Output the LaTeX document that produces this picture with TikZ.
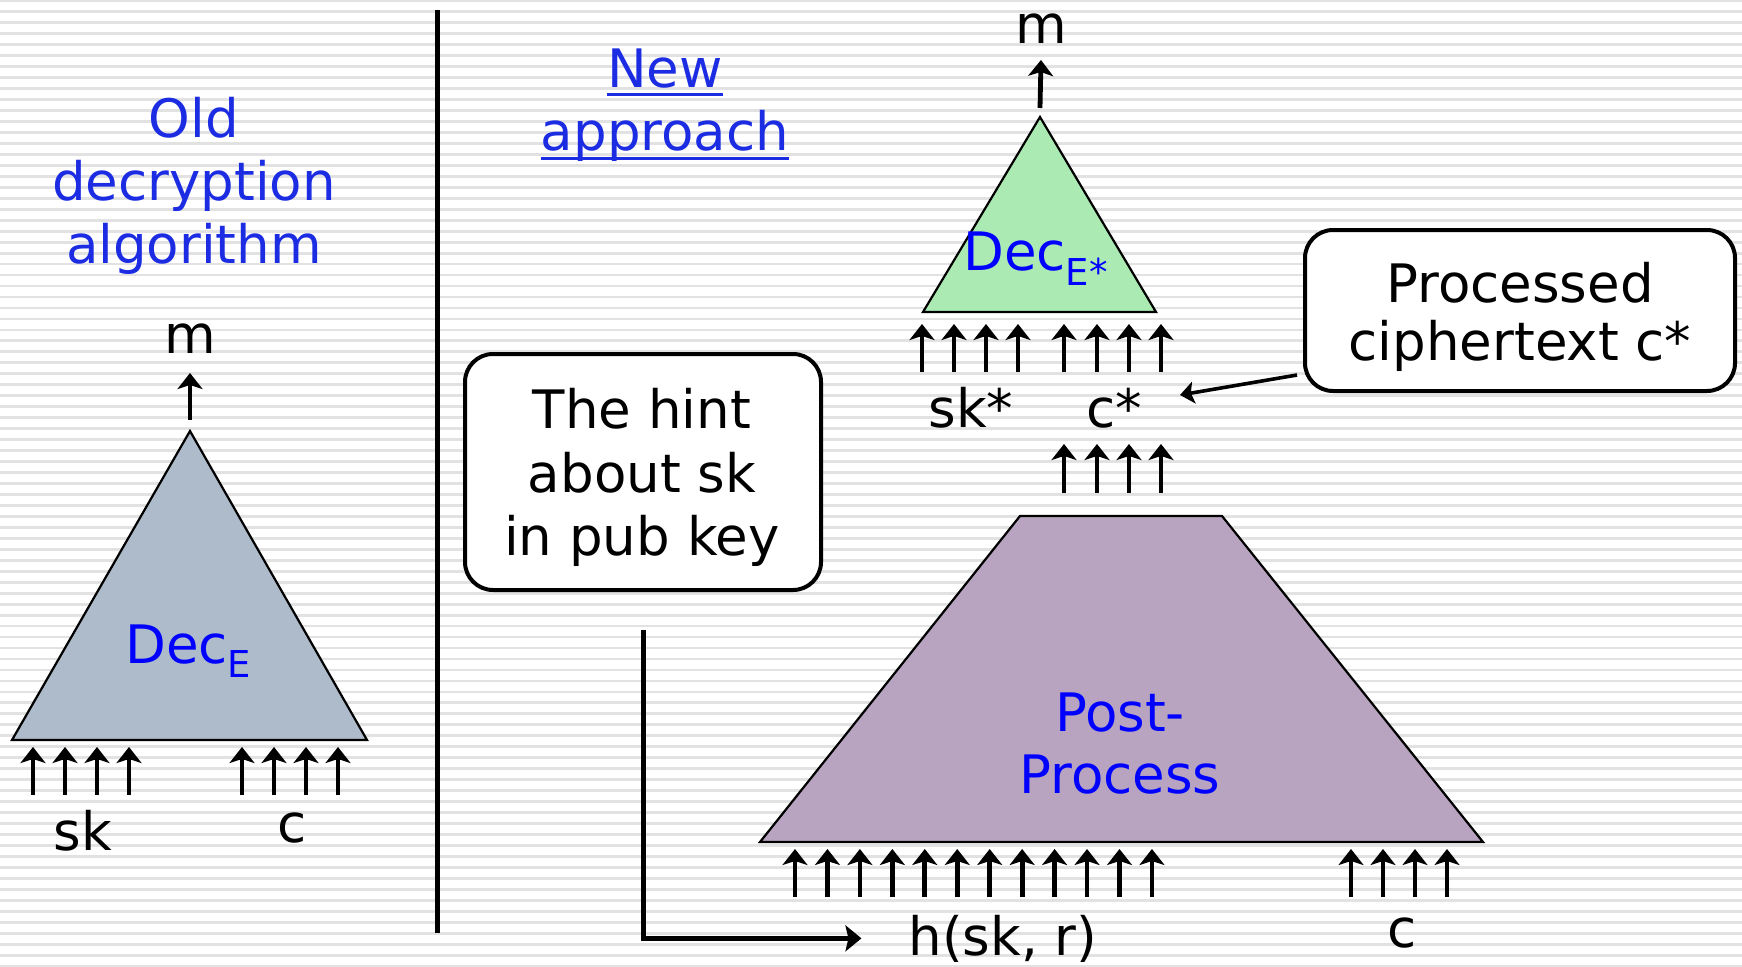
\documentclass[tikz,border=0pt]{standalone}
\usepackage{fontspec}
\setmainfont{DejaVu Sans}
\usetikzlibrary{arrows.meta,calc}

\definecolor{headblue}{RGB}{28,44,226}
\definecolor{labelblue}{RGB}{0,0,255}
\definecolor{stripe}{RGB}{226,226,226}
\definecolor{decgray}{RGB}{174,187,202}
\definecolor{decgreen}{RGB}{171,235,179}
\definecolor{postmauve}{RGB}{184,164,192}

\tikzset{
  txt/.style={inner sep=0pt, anchor=base, font=\fontsize{53bp}{63bp}\selectfont},
  head/.style={txt, text=headblue},
  lbl/.style={txt, text=black},
  inlbl/.style={txt, text=labelblue},
  shapeline/.style={draw=black, line width=2.2bp, line join=miter},
  bit/.style={line width=4.8bp, -{Stealth[width=25bp,length=16bp,inset=4bp]}},
  callbox/.style={draw=black, line width=4bp, rounded corners=28bp, fill=white, inner sep=0pt},
  callout/.style={line width=3.6bp, -{Stealth[width=22bp,length=14bp,inset=3bp]}},
  elbow/.style={line width=5bp, -{Stealth[width=26bp,length=16bp,inset=3bp]}},
  ul/.style={draw=headblue, line width=3bp}
}
\newcommand{\subE}[2]{\raisebox{-#1}{\fontsize{37bp}{37bp}\selectfont #2}}

\begin{document}
\begin{tikzpicture}[x=1bp,y=-1bp]
\useasboundingbox (0,0) rectangle (1742,966);

% ruled paper background
\fill[white] (0,0) rectangle (1742,966);
\foreach \k in {0,...,88}
  \fill[stripe] (0,{0.8+10.97*\k-1.4}) rectangle (1742,{0.8+10.97*\k+1.4});

% divider
\draw[line width=5bp] (437,10) -- (437,933);

% ---------- left: old decryption ----------
\node[head] (old1) at (194,137) {Old};
\node[head] (old2) at (194,200) {decryption};
\node[head] (old3) at (194,263) {algorithm};

\node[lbl] (mL) at (190,353) {m};
\coordinate (decLtop) at (190,431);
\filldraw[shapeline, fill=decgray] (decLtop) -- (367,740) -- (12,740) -- cycle;
\node[inlbl, anchor=base west] (decL) at (125,663) {Dec\subE{14bp}{E}};
\draw[bit] ($(decLtop)+(0,-11)$) -- ($(mL.base)+(0,20)$);

\foreach \x in {33,65,97,129,242,274,306,338}
  \draw[bit] (\x,795) -- (\x,747);
\node[lbl] (skL) at (83,850) {sk};
\node[lbl] (cL) at (292,842) {c};

% ---------- right: new approach ----------
\node[head] (new1) at (665,87) {New};
\node[head] (new2) at (665,150) {approach};
\draw[ul] ([yshift=-7bp]new1.base west) -- ([yshift=-7bp]new1.base east);
\draw[ul] ([yshift=-8bp]new2.base west) -- ([yshift=-8bp]new2.base east);

\node[lbl] (mR) at (1041,43) {m};
\coordinate (decRtop) at (1040,117);
\filldraw[shapeline, fill=decgreen] (decRtop) -- (1156,312) -- (923,312) -- cycle;
\node[inlbl, anchor=base west] (decR) at (963,270) {Dec\subE{15bp}{E*}};
\draw[bit] ($(decRtop)+(0,-9)$) -- ($(mR.base)+(0,17)$);

\foreach \x in {922,954,986,1018,1064,1097,1129,1161}
  \draw[bit] (\x,372) -- (\x,324);
\node[lbl] (skstar) at (971,427) {sk*};
\node[lbl] (cstar) at (1114,427) {c*};
\foreach \x in {1064,1097,1129,1161}
  \draw[bit] (\x,493) -- (\x,444);

\filldraw[shapeline, fill=postmauve] (1020,516) -- (1222,516) -- (1483,842) -- (760,842) -- cycle;
\node[inlbl] (post1) at (1120,731) {Post-};
\node[inlbl] (post2) at (1120,793) {Process};

\foreach \i in {0,...,11}
  \draw[bit] ({795+32.45*\i},897) -- ({795+32.45*\i},849);
\foreach \x in {1351,1383,1415,1447}
  \draw[bit] (\x,897) -- (\x,849);
\node[lbl] (hsk) at (1003,955) {h(sk, r)};
\node[lbl] (cR) at (1402,947) {c};

% hint box
\node[callbox, minimum width=356bp, minimum height=236bp] (hint) at (643,472) {};
\node[lbl] (hint1) at (642,428) {The hint};
\node[lbl] (hint2) at (642,492) {about sk};
\node[lbl] (hint3) at (642,555) {in pub key};
\draw[elbow] ($(hint.south)+(0,38)$) |- ($(hsk.west)+(-47,0)$);

% processed ciphertext box
\node[callbox, minimum width=430bp, minimum height=161bp] (proc) at (1520,310.5) {};
\node[lbl] (proc1) at (1520,302) {Processed};
\node[lbl] (proc2) at (1520,360) {ciphertext c*};
\coordinate (cstarTip) at (1180,395);
\draw[callout] ($(proc.west)+(-6,64.5)$) -- (cstarTip);
\end{tikzpicture}
\end{document}
